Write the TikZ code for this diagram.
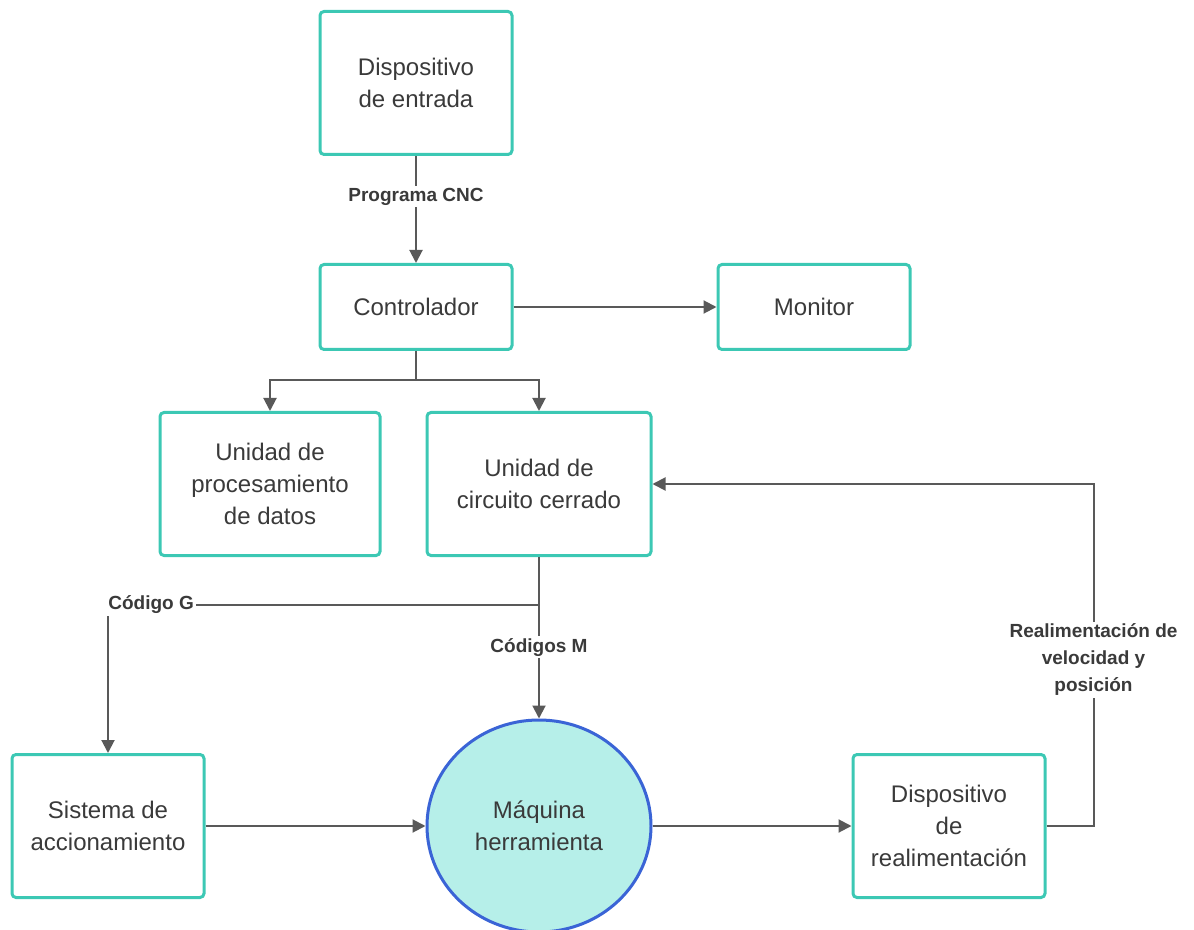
\documentclass[tikz,border=0pt]{standalone}
\usepackage{fontspec}
\setmainfont{Liberation Sans}
\usepackage{xcolor}
\usetikzlibrary{arrows.meta,positioning,calc,shapes.geometric}
\definecolor{boxteal}{HTML}{3CC8B4}
\definecolor{linegray}{HTML}{595959}
\definecolor{txtgray}{HTML}{3A3A3A}
\definecolor{machfill}{HTML}{B6EFE9}
\definecolor{machedge}{HTML}{3A64D6}
\tikzset{
  block/.style={draw=boxteal,line width=1.5pt,rounded corners=2pt,fill=white,align=center,text=txtgray,
    font=\fontsize{12}{16}\selectfont,minimum width=96pt,minimum height=71.5pt,inner sep=2pt},
  flow/.style={draw=linegray,line width=1pt,-{Triangle[length=6.5pt,width=6.5pt]}},
  tag/.style={fill=white,font=\bfseries\fontsize{9.5}{13.5}\selectfont,text=txtgray,align=center,inner sep=1pt}
}

\begin{document}
\begin{tikzpicture}[x=0.5pt,y=-0.5pt]
\useasboundingbox (0,0) rectangle (1194,930);
% boxes
\node[block] (entrada) at (416,83) {Dispositivo\\de entrada};
\node[block,minimum height=42.5pt] (ctrl) at (416,307) {Controlador};
\node[block,minimum height=42.5pt] (monitor) at (814,307) {Monitor};
\node[block,minimum width=110pt] (proc) at (270,484) {Unidad de\\procesamiento\\de datos};
\node[block,minimum width=112pt] (lazo) at (539,484) {Unidad de\\circuito cerrado};
\node[block] (accion) at (108,826) {Sistema de\\accionamiento};
\node[ellipse,draw=machedge,line width=1.5pt,fill=machfill,minimum width=112pt,minimum height=106pt,
  align=center,text=txtgray,font=\fontsize{12}{16}\selectfont] (maquina) at (539,826) {Máquina\\herramienta};
\node[block] (realim) at (949,826) {Dispositivo\\de\\realimentación};
% connectors
\draw[flow] (entrada) -- node[tag,pos=0.38]{Programa CNC} (ctrl);
\draw[flow] (ctrl) -- (monitor);
\coordinate (split) at (416,380);
\draw[draw=linegray,line width=1pt] (ctrl.south) -- (split);
\draw[flow] (split) -| (proc.north);
\draw[flow] (split) -| (lazo.north);
\coordinate (branch) at (539,605);
\draw[flow] (lazo.south) -- node[tag,pos=0.56]{Códigos M} (maquina.north);
\draw[flow] (branch) -| node[tag,pos=0.45]{Código G} (accion.north);
\draw[flow] (accion) -- (maquina);
\draw[flow] (maquina) -- (realim);
\draw[flow] (realim.east) -- ++(47,0) |- node[tag,pos=0.243]{Realimentación de\\velocidad y\\posición} (lazo.east);
\end{tikzpicture}
\end{document}
